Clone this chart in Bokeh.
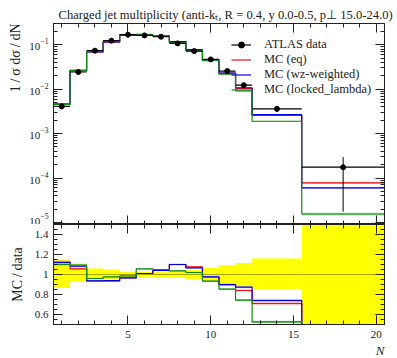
from bokeh.plotting import figure
from bokeh.models import (FixedTicker, LogTicker, LinearAxis, LogAxis, Range1d, Title,
                          Legend, LegendItem, CustomJSTickFormatter)
from bokeh.layouts import column
from bokeh.embed import file_html
from bokeh.resources import INLINE

# ---------------- data ----------------
bin_lo = [0.5, 1.5, 2.5, 3.5, 4.5, 5.5, 6.5, 7.5, 8.5, 9.5, 10.5, 11.5, 12.5, 15.5]
bin_hi = [1.5, 2.5, 3.5, 4.5, 5.5, 6.5, 7.5, 8.5, 9.5, 10.5, 11.5, 12.5, 15.5, 20.5]

data = [4.1e-3, 0.0243, 0.0733, 0.123, 0.168, 0.162, 0.151, 0.107, 0.0718, 0.0467,
        0.0255, 0.0123, 3.6e-3, 1.75e-4]
data_err_up = [0.15, 0.11, 0.06, 0.05, 0.026, 0.025, 0.03, 0.035, 0.045, 0.066,
               0.093, 0.116, 0.16, 0.69]
data_err_dn = [0.134, 0.074, 0.064, 0.05, 0.024, 0.025, 0.03, 0.035, 0.045, 0.067,
               0.107, 0.124, 0.15, 0.90]

ratio_eq = [1.126, 1.056, 0.936, 0.933, 0.967, 1.01, 1.04, 1.10, 1.076, 0.976,
            0.895, 0.84, 0.71, 0.446]
ratio_wz = [1.12, 1.083, 0.936, 0.94, 0.967, 1.01, 1.04, 1.10, 1.066, 0.976,
            0.90, 0.873, 0.74, 0.343]
ratio_locked = [1.10, 1.093, 0.96, 0.976, 0.986, 1.056, 1.05, 1.036, 1.02, 0.933,
                0.853, 0.743, 0.526, 0.0886]

mc_err_eq = [0.012, 0.008, 0.006, 0.005, 0.005, 0.005, 0.005, 0.006, 0.007, 0.008,
             0.01, 0.012, 0.02, 0.05]
mc_err_wz = [0.012, 0.008, 0.006, 0.005, 0.005, 0.005, 0.005, 0.006, 0.007, 0.008,
             0.01, 0.012, 0.02, 0.05]
mc_err_locked = [0.012, 0.008, 0.006, 0.005, 0.005, 0.005, 0.005, 0.006, 0.007, 0.008,
                 0.01, 0.012, 0.02, 0.07]

x_major = [5, 10, 15, 20]
x_minor = list(range(1, 21))
r_major = [0.6, 0.8, 1.0, 1.2, 1.4]
r_minor = [0.5, 0.55, 0.6, 0.65, 0.7, 0.75, 0.8, 0.85, 0.9, 0.95, 1.0, 1.05, 1.1,
           1.15, 1.2, 1.25, 1.3, 1.35, 1.4, 1.45, 1.5]

title_text = "Charged jet multiplicity (anti-kₜ, R = 0.4, y 0.0-0.5, p⊥ 15.0-24.0)"
ylabel_main = "1\u2009/\u2009σ dσ\u2009/\u2009dN"
ylabel_ratio = "MC\u2009/\u2009data"
xlabel = "N"

series = [
    ("MC (eq)", ratio_eq, mc_err_eq, "#ee1111", "#ffaaaa"),
    ("MC (wz-weighted)", ratio_wz, mc_err_wz, "#0000ee", "#aaaaff"),
    ("MC (locked_lambda)", ratio_locked, mc_err_locked, "#118811", "#88cc88"),
]

FONT = "Liberation Serif"
INK = "#222222"
centers = [(a + b) / 2 for a, b in zip(bin_lo, bin_hi)]
edges = bin_lo + [bin_hi[-1]]


def style_axis(ax, labels=True):
    ax.major_tick_in = 9
    ax.major_tick_out = 0
    ax.minor_tick_in = 4
    ax.minor_tick_out = 0
    ax.axis_line_color = INK
    ax.major_tick_line_color = INK
    ax.minor_tick_line_color = INK
    ax.major_label_text_font = FONT
    ax.major_label_text_font_size = "11px"
    ax.major_label_text_color = INK
    ax.major_label_standoff = 5
    if not labels:
        ax.formatter = CustomJSTickFormatter(code="return '';")
        ax.major_label_text_font_size = "1px"
        ax.major_label_standoff = 0


def side_title(text, align, standoff, size="12px", style="normal", offset=0):
    return Title(text=text, align=align, standoff=standoff, offset=offset, text_font=FONT,
                 text_font_size=size, text_font_style=style, text_color=INK)


# ---------------- main panel ----------------
p = figure(width=397, height=224, y_axis_type="log",
           x_range=Range1d(0.5, 20.5), y_range=Range1d(9e-6, 0.30),
           output_backend="svg", toolbar_location=None,
           min_border_left=49, min_border_right=13, min_border_top=23, min_border_bottom=0)
p.grid.visible = False
p.outline_line_color = INK

p.xaxis.ticker = FixedTicker(ticks=x_major, minor_ticks=x_minor)
p.yaxis.ticker = LogTicker(num_minor_ticks=10)
style_axis(p.xaxis[0], labels=False)
style_axis(p.yaxis[0], labels=True)
top_ax = LinearAxis(ticker=FixedTicker(ticks=x_major, minor_ticks=x_minor))
style_axis(top_ax, labels=False)
p.add_layout(top_ax, "above")
right_ax = LogAxis(ticker=LogTicker(num_minor_ticks=10))
style_axis(right_ax, labels=False)
p.add_layout(right_ax, "right")

mc_renderers = []
for name, ratio, err, col, bandcol in series:
    mc = [rv * d for rv, d in zip(ratio, data)]
    p.quad(left=bin_lo, right=bin_hi, bottom=[m * (1 - e) for m, e in zip(mc, err)],
           top=[m * (1 + e) for m, e in zip(mc, err)], fill_color=bandcol,
           fill_alpha=0.7, line_color=None)
    rr = p.step(x=edges, y=mc + [mc[-1]], mode="after", line_color=col, line_width=1.2)
    mc_renderers.append((name, rr))

xe = p.segment(x0=bin_lo, x1=bin_hi, y0=data, y1=data, line_color="black", line_width=1.2)
p.segment(x0=centers, x1=centers, y0=[d * (1 - e) for d, e in zip(data, data_err_dn)],
          y1=[d * (1 + e) for d, e in zip(data, data_err_up)], line_color="black",
          line_width=1)
sc = p.scatter(x=centers, y=data, size=5, marker="circle", fill_color="black",
               line_color="black")

items = [LegendItem(label="ATLAS data", renderers=[xe, sc])]
for name, rr in mc_renderers:
    items.append(LegendItem(label=name, renderers=[rr]))
legend = Legend(items=items, location=(178, 127), padding=0, margin=0, spacing=0,
                glyph_width=20, glyph_height=15, label_height=15, label_standoff=13,
                label_text_font=FONT, label_text_font_size="12.5px",
                label_text_color=INK, border_line_alpha=0, background_fill_alpha=0)
p.add_layout(legend)

p.add_layout(side_title(title_text, "left", 3, size="12.6px", offset=5), "above")
p.add_layout(side_title(ylabel_main, "right", 8, size="14px"), "left")

# ---------------- ratio panel ----------------
r = figure(width=397, height=134, x_range=p.x_range, y_range=Range1d(0.5, 1.5),
           output_backend="svg", toolbar_location=None,
           min_border_left=49, min_border_right=13, min_border_top=0, min_border_bottom=34)
r.grid.visible = False
r.outline_line_color = INK

r.xaxis.ticker = FixedTicker(ticks=x_major, minor_ticks=x_minor)
r.yaxis.ticker = FixedTicker(ticks=r_major, minor_ticks=r_minor)
style_axis(r.xaxis[0], labels=True)
style_axis(r.yaxis[0], labels=True)
r.xaxis[0].major_label_standoff = 6
r.yaxis.formatter = CustomJSTickFormatter(
    code="return Math.abs(tick - 1) < 1e-9 ? '1' : tick.toFixed(1);")
r_top = LinearAxis(ticker=FixedTicker(ticks=x_major, minor_ticks=x_minor))
style_axis(r_top, labels=False)
r.add_layout(r_top, "above")
r_right = LinearAxis(ticker=FixedTicker(ticks=r_major, minor_ticks=r_minor))
style_axis(r_right, labels=False)
r.add_layout(r_right, "right")

r.quad(left=bin_lo, right=bin_hi, bottom=[1 - e for e in data_err_dn],
       top=[1 + e for e in data_err_up], fill_color="#ffff00", line_color=None)
r.step(x=edges, y=[1.0] * len(edges), mode="after", line_color="black",
       line_alpha=0.35, line_width=1.2)
for name, ratio, err, col, bandcol in series:
    r.quad(left=bin_lo, right=bin_hi, bottom=[v * (1 - e) for v, e in zip(ratio, err)],
           top=[v * (1 + e) for v, e in zip(ratio, err)], fill_color=bandcol,
           fill_alpha=0.7, line_color=None)
    r.step(x=edges, y=ratio + [ratio[-1]], mode="after", line_color=col, line_width=1.2)

r.add_layout(side_title(ylabel_ratio, "center", 14, size="14px"), "left")
r.add_layout(side_title(xlabel, "right", 1, size="13px", style="italic"), "below")

layout = column(p, r, spacing=0)
open("out.html", "w").write(file_html(layout, INLINE))
